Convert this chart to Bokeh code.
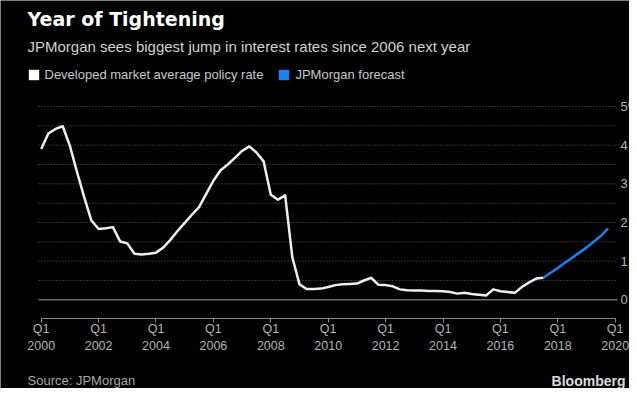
from bokeh.plotting import figure
from bokeh.models import (Range1d, FixedTicker, Label, Legend, LegendItem,
                          ColumnDataSource)
from bokeh.embed import file_html
from bokeh.resources import INLINE

# ---------------- data ----------------
hist_x = [2000.00, 2000.25, 2000.50, 2000.75, 2001.00, 2001.25, 2001.50, 2001.75,
          2002.00, 2002.25, 2002.50, 2002.75, 2003.00, 2003.25, 2003.50, 2003.75,
          2004.00, 2004.25, 2004.50, 2004.75, 2005.00, 2005.25, 2005.50, 2005.75,
          2006.00, 2006.25, 2006.50, 2006.75, 2007.00, 2007.25, 2007.50, 2007.75,
          2008.00, 2008.25, 2008.50, 2008.75, 2009.00, 2009.25, 2009.50, 2009.75,
          2010.00, 2010.25, 2010.50, 2010.75, 2011.00, 2011.25, 2011.50, 2011.75,
          2012.00, 2012.25, 2012.50, 2012.75, 2013.00, 2013.25, 2013.50, 2013.75,
          2014.00, 2014.25, 2014.50, 2014.75, 2015.00, 2015.25, 2015.50, 2015.75,
          2016.00, 2016.25, 2016.50, 2016.75, 2017.00, 2017.25, 2017.50]
hist_rate = [3.90, 4.30, 4.42, 4.49, 3.98, 3.30, 2.65, 2.05,
             1.83, 1.85, 1.88, 1.51, 1.46, 1.19, 1.17, 1.19,
             1.22, 1.35, 1.55, 1.78, 1.99, 2.20, 2.40, 2.74,
             3.08, 3.35, 3.50, 3.67, 3.85, 3.97, 3.81, 3.58,
             2.72, 2.59, 2.70, 1.10, 0.40, 0.28, 0.28, 0.29,
             0.33, 0.38, 0.40, 0.41, 0.42, 0.50, 0.57, 0.39,
             0.38, 0.35, 0.27, 0.25, 0.24, 0.24, 0.23, 0.23,
             0.22, 0.20, 0.16, 0.18, 0.15, 0.13, 0.11, 0.27,
             0.22, 0.20, 0.18, 0.33, 0.45, 0.55, 0.57]

fc_x = [2017.50, 2017.75, 2018.00, 2018.25, 2018.50, 2018.75, 2019.00, 2019.25,
        2019.50, 2019.75]
fc_rate = [0.57, 0.70, 0.82, 0.96, 1.09, 1.22, 1.35, 1.50, 1.65, 1.85]

x_ticks = [2000, 2002, 2004, 2006, 2008, 2010, 2012, 2014, 2016, 2018, 2020]
x_tick_labels = ["Q1\n2000", "Q1\n2002", "Q1\n2004", "Q1\n2006", "Q1\n2008",
                 "Q1\n2010", "Q1\n2012", "Q1\n2014", "Q1\n2016", "Q1\n2018",
                 "Q1\n2020"]
y_ticks = [0, 1, 2, 3, 4, 5]
y_tick_labels = ["0", "1", "2", "3", "4", "5%"]
grid_ticks = [0.5, 1.0, 1.5, 2.0, 2.5, 3.0, 3.5, 4.0, 4.5, 5.0]

title_text = "Year of Tightening"
subtitle_text = "JPMorgan sees biggest jump in interest rates since 2006 next year"
legend_labels = ["Developed market average policy rate", "JPMorgan forecast"]
source_text = "Source: JPMorgan"
brand_text = "Bloomberg"

# ---------------- layout / style constants ----------------
W, H = 629, 388
X0, X1 = 1998.582, 2020.498          # full-canvas x range
Y0, Y1 = -2.294, 7.742               # full-canvas y range
GX0, GX1 = 1999.906, 2020.080        # horizontal extent of the plot area
AXIS_Y = -0.471                      # where the x axis line sits
BG = "#000000"
WHITE = "#eeeeee"
BLUE = "#1a7ff0"
FONT = "Liberation Sans"
NAN = float("nan")

p = figure(width=W, height=H, output_backend="svg", toolbar_location=None,
           title=None, y_axis_location=None,
           x_range=Range1d(X0, X1), y_range=Range1d(Y0, Y1),
           min_border=0, min_border_left=0, min_border_right=0,
           min_border_top=0, min_border_bottom=0)
p.background_fill_color = BG
p.border_fill_color = BG
p.outline_line_color = None
p.xgrid.visible = False
p.ygrid.visible = False

# dotted horizontal gridlines and solid zero line
p.segment(x0=[GX0] * len(grid_ticks), x1=[GX1] * len(grid_ticks),
          y0=grid_ticks, y1=grid_ticks, line_color="#606060",
          line_dash="1 2", line_width=1)
p.segment(x0=[GX0], x1=[GX1], y0=[0], y1=[0], line_color="#6e6e6e",
          line_width=1.5)

# x axis, fixed inside the canvas
xa = p.xaxis[0]
xa.fixed_location = AXIS_Y
xa.ticker = FixedTicker(ticks=x_ticks)
xa.major_label_overrides = {t: l for t, l in zip(x_ticks, x_tick_labels)}
xa.bounds = (x_ticks[0], x_ticks[-1])
xa.axis_line_color = "#8a8a8a"
xa.axis_line_width = 1.2
xa.major_tick_line_color = "#8a8a8a"
xa.major_tick_in = 0
xa.major_tick_out = 4
xa.minor_tick_line_color = None
xa.major_label_text_color = "#b4b4b4"
xa.major_label_text_font = FONT
xa.major_label_text_font_size = "12.5px"
xa.major_label_standoff = 0

# data lines
r_hist = p.line(hist_x, hist_rate, line_color=WHITE, line_width=2.5,
                line_join="round")
r_fc = p.line(fc_x, fc_rate, line_color=BLUE, line_width=2.5, line_join="round")

# legend swatches (quads with no drawable extent, used only as legend keys)
sw_src = ColumnDataSource(dict(l=[NAN], r=[NAN], b=[NAN], t=[NAN]))
sw_white = p.quad(left="l", right="r", bottom="b", top="t", source=sw_src,
                  fill_color="#ffffff", line_color=None)
sw_blue = p.quad(left="l", right="r", bottom="b", top="t", source=sw_src,
                 fill_color=BLUE, line_color=None)
legend = Legend(items=[LegendItem(label=legend_labels[0], renderers=[sw_white], index=0),
                       LegendItem(label=legend_labels[1], renderers=[sw_blue], index=0)],
                location=(26.5, 306.5), orientation="horizontal",
                glyph_width=13, glyph_height=13, label_height=13,
                label_standoff=5, spacing=14, padding=0, margin=0,
                background_fill_alpha=0, border_line_alpha=0,
                label_text_color="#c8c8c8", label_text_font=FONT,
                label_text_font_size="13px")
p.add_layout(legend, "center")

# y tick labels (right side)
for t, l in zip(y_ticks, y_tick_labels):
    p.add_layout(Label(x=620, y=t, x_units="screen", y_units="data", text=l,
                       text_color="#b4b4b4", text_font=FONT,
                       text_font_size="13px", text_align="left",
                       text_baseline="middle"))

# titles and footer
p.add_layout(Label(x=27, y=370, x_units="screen", y_units="screen",
                   text=title_text, text_color="#ffffff",
                   text_font="DejaVu Sans", text_font_style="bold",
                   text_font_size="19px", text_baseline="middle"))
p.add_layout(Label(x=27, y=342, x_units="screen", y_units="screen",
                   text=subtitle_text, text_color="#d2d2d2", text_font=FONT,
                   text_font_size="15px", text_baseline="middle"))
p.add_layout(Label(x=27, y=8, x_units="screen", y_units="screen",
                   text=source_text, text_color="#a8a8a8", text_font=FONT,
                   text_font_size="13px", text_baseline="middle"))
p.add_layout(Label(x=625, y=8, x_units="screen", y_units="screen",
                   text=brand_text, text_color="#dcdcdc", text_font=FONT,
                   text_font_style="bold", text_font_size="14px",
                   text_align="right", text_baseline="middle"))

open("out.html", "w").write(file_html(p, INLINE))
